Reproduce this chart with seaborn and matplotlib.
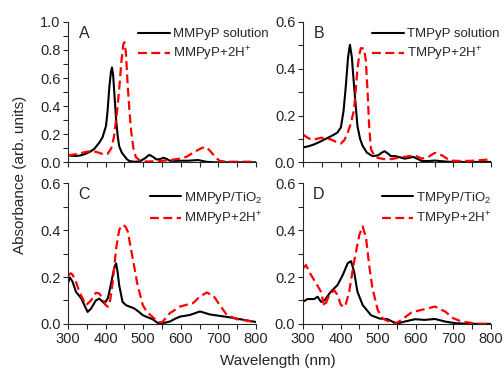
import matplotlib
matplotlib.use("Agg")
import matplotlib.pyplot as plt
from matplotlib.ticker import MultipleLocator
import pandas as pd
import seaborn as sns

# ---- Panel A: MMPyP solution vs protonated ----
wl_a_sol = [300, 310, 320, 330, 340, 350, 360, 370, 383, 392, 401, 405, 410, 414, 417, 420, 424, 428,
            432, 436, 443, 450, 457, 463, 475, 490, 505, 516, 526, 535, 545, 554, 562, 571, 585, 598,
            620, 646, 669, 690, 750, 800]
ab_a_sol = [0.052, 0.047, 0.046, 0.048, 0.055, 0.065, 0.078, 0.097, 0.14, 0.18, 0.26, 0.36, 0.54, 0.64,
            0.676, 0.62, 0.46, 0.30, 0.19, 0.115, 0.07, 0.045, 0.022, 0.01, 0.005, 0.006, 0.03, 0.054,
            0.04, 0.021, 0.024, 0.033, 0.025, 0.012, 0.011, 0.012, 0.012, 0.017, 0.004, 0.001, 0.001, 0.001]
wl_a_h = [300, 320, 340, 362, 375, 390, 400, 405, 415, 422, 430, 437, 442, 447, 450, 454, 458, 463, 468,
          474, 480, 490, 510, 530, 554, 575, 599, 615, 633, 650, 664, 675, 686, 696, 704, 730, 760, 800]
ab_a_h = [0.05, 0.058, 0.07, 0.082, 0.075, 0.062, 0.057, 0.06, 0.1, 0.18, 0.35, 0.55, 0.72, 0.84, 0.855,
          0.78, 0.58, 0.38, 0.22, 0.1, 0.04, 0.015, 0.006, 0.008, 0.012, 0.018, 0.028, 0.04, 0.069, 0.095,
          0.111, 0.09, 0.057, 0.028, 0.01, 0.005, 0.005, 0.005]

# ---- Panel B: TMPyP solution vs protonated ----
wl_b_sol = [300, 315, 330, 345, 357, 370, 383, 392, 401, 408, 414, 420, 425, 430, 436, 445, 452, 459,
            470, 485, 500, 508, 517, 526, 534, 545, 558, 571, 583, 593, 605, 616, 635, 651, 670, 686,
            720, 760, 800]
ab_b_sol = [0.064, 0.069, 0.077, 0.088, 0.098, 0.108, 0.119, 0.128, 0.15, 0.22, 0.325, 0.45, 0.502, 0.45,
            0.325, 0.155, 0.1, 0.07, 0.042, 0.027, 0.03, 0.04, 0.048, 0.038, 0.027, 0.027, 0.022, 0.016,
            0.02, 0.024, 0.015, 0.006, 0.006, 0.008, 0.005, 0.003, 0.002, 0.002, 0.002]
wl_b_h = [300, 310, 321, 335, 348, 362, 374, 388, 401, 410, 419, 428, 436, 441, 445, 450, 454, 462, 467,
          472, 476, 481, 490, 498, 515, 535, 553, 575, 598, 616, 635, 651, 670, 691, 720, 749, 775, 800]
ab_b_h = [0.119, 0.108, 0.098, 0.1, 0.105, 0.104, 0.098, 0.088, 0.081, 0.095, 0.126, 0.17, 0.226, 0.32,
          0.40, 0.46, 0.488, 0.486, 0.44, 0.3, 0.16, 0.055, 0.03, 0.02, 0.014, 0.014, 0.02, 0.025, 0.03,
          0.016, 0.025, 0.041, 0.03, 0.008, 0.006, 0.007, 0.01, 0.013]

# ---- Panel C: MMPyP/TiO2 film vs protonated ----
wl_c_film = [300, 305, 312, 321, 335, 345, 352, 361, 374, 383, 390, 397, 406, 413, 419, 424, 428, 432,
             436, 445, 454, 465, 476, 488, 499, 512, 525, 535, 543, 557, 571, 585, 598, 624, 651, 678,
             722, 758, 800]
ab_c_film = [0.175, 0.198, 0.18, 0.137, 0.109, 0.075, 0.051, 0.065, 0.1, 0.108, 0.098, 0.087, 0.11, 0.16,
             0.209, 0.245, 0.258, 0.22, 0.166, 0.094, 0.08, 0.073, 0.066, 0.052, 0.037, 0.028, 0.02,
             0.008, 0.001, 0.005, 0.01, 0.022, 0.031, 0.038, 0.053, 0.04, 0.03, 0.02, 0.008]
wl_c_h = [300, 307, 312, 321, 330, 340, 348, 361, 374, 383, 392, 399, 406, 412, 419, 428, 436, 442, 447,
          453, 459, 472, 485, 499, 510, 521, 539, 550, 571, 598, 633, 651, 669, 687, 700, 722, 749, 775, 800]
ab_c_h = [0.205, 0.216, 0.21, 0.18, 0.137, 0.105, 0.08, 0.1, 0.133, 0.13, 0.11, 0.082, 0.073, 0.1, 0.18,
          0.323, 0.40, 0.42, 0.422, 0.415, 0.394, 0.28, 0.166, 0.08, 0.05, 0.035, 0.009, 0.006, 0.046,
          0.074, 0.089, 0.117, 0.134, 0.12, 0.089, 0.039, 0.02, 0.014, 0.006]

# ---- Panel D: TMPyP/TiO2 film vs protonated ----
wl_d_film = [300, 312, 330, 339, 348, 357, 374, 392, 406, 419, 428, 436, 445, 459, 481, 503, 525, 540,
             552, 571, 598, 624, 651, 678, 705, 740, 800]
ab_d_film = [0.094, 0.106, 0.106, 0.116, 0.094, 0.1, 0.137, 0.166, 0.209, 0.259, 0.268, 0.223, 0.137,
             0.08, 0.037, 0.023, 0.02, 0.008, 0.002, 0.01, 0.02, 0.017, 0.021, 0.01, 0.003, 0.0, 0.0]
wl_d_h = [300, 308, 321, 335, 348, 357, 370, 383, 392, 401, 412, 423, 436, 450, 459, 468, 476, 485, 499,
          512, 530, 545, 562, 589, 616, 651, 678, 700, 722, 766, 800]
ab_d_h = [0.237, 0.251, 0.21, 0.173, 0.137, 0.073, 0.123, 0.144, 0.123, 0.08, 0.073, 0.137, 0.266, 0.38,
          0.416, 0.366, 0.251, 0.151, 0.059, 0.023, 0.009, 0.0, 0.017, 0.049, 0.06, 0.074, 0.053, 0.024,
          0.01, 0.0, 0.0]

panels = [
    ("A", wl_a_sol, ab_a_sol, "MMPyP solution", wl_a_h, ab_a_h, "MMPyP+2H$^{+}$", 1.0),
    ("B", wl_b_sol, ab_b_sol, "TMPyP solution", wl_b_h, ab_b_h, "TMPyP+2H$^{+}$", 0.6),
    ("C", wl_c_film, ab_c_film, "MMPyP/TiO$_{2}$", wl_c_h, ab_c_h, "MMPyP+2H$^{+}$", 0.6),
    ("D", wl_d_film, ab_d_film, "TMPyP/TiO$_{2}$", wl_d_h, ab_d_h, "TMPyP+2H$^{+}$", 0.6),
]
legend_x = [0.36, 0.355, 0.42, 0.405]

sns.set_theme(style="ticks")
plt.rcParams["font.family"] = ["Liberation Sans", "DejaVu Sans"]
plt.rcParams["mathtext.fontset"] = "custom"
plt.rcParams["mathtext.rm"] = "Liberation Sans"
plt.rcParams["mathtext.it"] = "Liberation Sans:italic"
plt.rcParams["axes.linewidth"] = 0.8
plt.rcParams["xtick.direction"] = "out"
plt.rcParams["ytick.direction"] = "out"

fig, axes = plt.subplots(2, 2, figsize=(5.04, 3.71), dpi=100)
fig.subplots_adjust(left=0.135, right=0.974, top=0.941, bottom=0.127, wspace=0.25, hspace=0.149)

for ax, (letter, wl1, ab1, lab1, wl2, ab2, lab2, ymax), lx in zip(axes.flat, panels, legend_x):
    d1 = pd.DataFrame({"wl": wl1, "ab": ab1})
    d2 = pd.DataFrame({"wl": wl2, "ab": ab2})
    sns.lineplot(data=d1, x="wl", y="ab", ax=ax, color="black", linewidth=1.5, label=lab1,
                 estimator=None, sort=False)
    sns.lineplot(data=d2, x="wl", y="ab", ax=ax, color="#ff0000", linewidth=1.6, label=lab2,
                 estimator=None, sort=False, linestyle=(0, (4, 2)))
    ax.set_xlim(300, 800)
    ax.set_ylim(0, ymax)
    ax.xaxis.set_major_locator(MultipleLocator(100))
    ax.xaxis.set_minor_locator(MultipleLocator(50))
    ax.yaxis.set_major_locator(MultipleLocator(0.2))
    ax.yaxis.set_minor_locator(MultipleLocator(0.1))
    ax.yaxis.set_major_formatter(plt.FormatStrFormatter("%.1f"))
    ax.tick_params(which="major", length=3.5, width=0.8, labelsize=10.5, pad=2)
    ax.tick_params(which="minor", length=3.5, width=0.8)
    ax.set_xlabel("")
    ax.set_ylabel("")
    sns.despine(ax=ax)
    ax.text(0.085, 0.92, letter, transform=ax.transAxes, fontsize=11.5, ha="center", va="center")
    ax.legend(loc="upper left", bbox_to_anchor=(lx, 0.975), frameon=False, fontsize=9.5,
              handlelength=2.4, handletextpad=0.2, labelspacing=0.35, borderaxespad=0, borderpad=0.2)

for ax in axes[0]:
    ax.tick_params(labelbottom=False)

fig.text(0.04, 0.528, "Absorbance (arb. units)", rotation=90, ha="center", va="center", fontsize=11)
fig.text(0.552, 0.027, "Wavelength (nm)", ha="center", va="center", fontsize=11)

fig.savefig("out.png", dpi=100, facecolor="white")
